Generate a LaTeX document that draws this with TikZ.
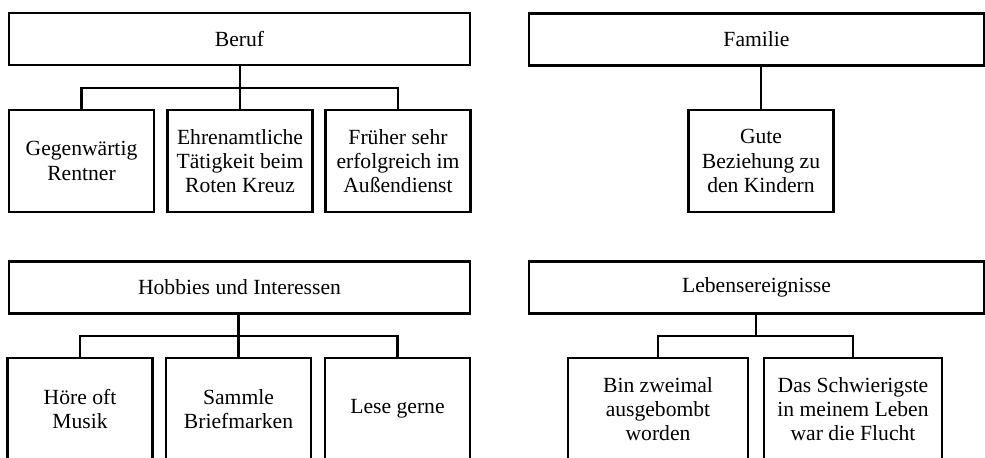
\documentclass[tikz,border=0pt]{standalone}
\usepackage{fontspec}
\setmainfont{Liberation Serif}
\tikzset{
  kopf/.style={draw=black, line width=1.4pt, minimum width=9.22cm, minimum height=1.04cm, font=\fontsize{12.3}{13.8}\selectfont},
  feld/.style={draw=black, line width=1.4pt, minimum width=2.9cm, minimum height=2.04cm, align=center, font=\fontsize{12.3}{13.8}\selectfont},
  ast/.style={line width=1.4pt}
}
\begin{document}
\begin{tikzpicture}[x=0.02cm,y=-0.02cm]
\clip (0,0) rectangle (985,457);
% Beruf
\node[kopf] (beruf) at (239.5,39){Beruf};
\node[feld] (rentner) at (81.5,161){Gegenwärtig\\Rentner};
\node[feld] (ehrenamt) at (240,161){Ehrenamtliche\\Tätigkeit beim\\Roten Kreuz};
\node[feld] (aussendienst) at (398,161){Früher sehr\\erfolgreich im\\Außendienst};
\coordinate (jberuf) at (240,88);
\draw [ast] (beruf.south -| jberuf) -- (jberuf);
\draw [ast] (rentner.north) |- (jberuf) -| (aussendienst.north);
\draw [ast] (jberuf) -- (ehrenamt.north);
% Familie
\node[kopf, minimum width=9.1cm] (familie) at (756.5,39.5){Familie};
\node[feld] (kinder) at (761,161){Gute\\Beziehung zu\\den Kindern};
\draw [ast] (kinder.north) -- (kinder.north |- familie.south);
% Hobbies
\node[kopf] (hobbies) at (239.5,287.5){Hobbies und Interessen};
\node[feld] (musik) at (80,409){Höre oft\\Musik};
\node[feld] (marken) at (238.5,409){Sammle\\Briefmarken};
\node[feld] (lesen) at (397.5,409){Lese gerne};
\coordinate (jhobbies) at (238.5,336);
\draw [ast] (hobbies.south -| jhobbies) -- (jhobbies);
\draw [ast] (musik.north) |- (jhobbies) -| (lesen.north);
\draw [ast] (jhobbies) -- (marken.north);
% Lebensereignisse
\node[kopf, minimum width=9.1cm] (leben) at (756.5,287.5){Lebensereignisse};
\node[feld, minimum width=3.6cm] (bomben) at (658,409){Bin zweimal\\ausgebombt\\worden};
\node[feld, minimum width=3.56cm] (flucht) at (853,409){Das Schwierigste\\in meinem Leben\\war die Flucht};
\coordinate (jleben) at (756,336);
\draw [ast] (leben.south -| jleben) -- (jleben);
\draw [ast] (bomben.north) |- (jleben) -| (flucht.north);
\end{tikzpicture}
\end{document}
